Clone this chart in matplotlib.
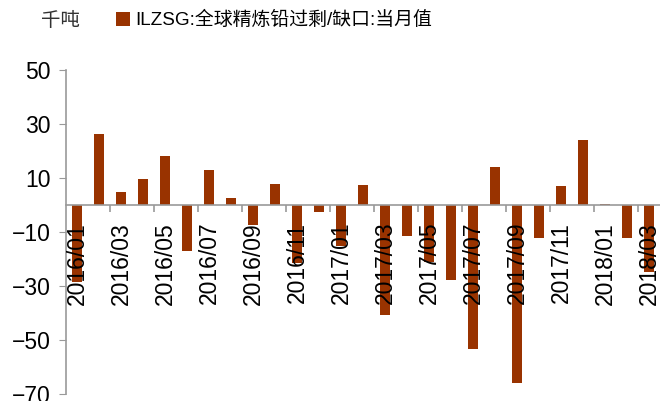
import matplotlib
matplotlib.use("Agg")
import matplotlib.pyplot as plt
import numpy as np

months = ["2016/01","2016/02","2016/03","2016/04","2016/05","2016/06","2016/07","2016/08",
          "2016/09","2016/10","2016/11","2016/12","2017/01","2017/02","2017/03","2017/04",
          "2017/05","2017/06","2017/07","2017/08","2017/09","2017/10","2017/11","2017/12",
          "2018/01","2018/02","2018/03"]
values = [-28.3, 26.4, 4.8, 9.8, 18.3, -16.9, 13.1, 2.8, -7.3, 7.9, -21.4, -2.7,
          -15.3, 7.3, -40.6, -11.4, -20.9, -27.7, -53.3, 14.1, -65.7, -12.0, 7.1, 24.1,
          0.3, -12.0, -24.6]
series_name = "ILZSG:全球精炼铅过剩/缺口:当月值"
unit = "千吨"
yticks = [-70, -50, -30, -10, 10, 30, 50]

plt.rcParams['font.family'] = ['Liberation Sans', 'Noto Sans CJK SC']
gray = '#999999'
barc = '#993300'

fig = plt.figure(figsize=(6.6, 4.01), dpi=100)
ax = fig.add_axes([0.1, 0.0167, 0.9, 0.8087])
x = np.arange(len(months))
ax.bar(x, values, width=0.42, color=barc, label=series_name, zorder=2)
ax.set_xlim(-0.5, len(months) - 0.5)
ax.set_ylim(-70, 50)
ax.set_yticks(yticks)
ax.tick_params(axis='y', direction='out', length=5, color=gray, labelsize=16.5, pad=6)

for s in ['top', 'right']:
    ax.spines[s].set_visible(False)
ax.spines['left'].set_color(gray)
ax.spines['left'].set_linewidth(1.2)
ax.spines['bottom'].set_position(('data', 0))
ax.spines['bottom'].set_color(gray)
ax.spines['bottom'].set_linewidth(1.2)
ax.spines['bottom'].set_zorder(3)
ax.xaxis.set_zorder(4)

ax.set_xticks(x[::2])
ax.set_xticklabels(months[::2], rotation=90, ha='center', va='top')
ax.set_xticks(np.arange(1.5, len(months) - 1, 2), minor=True)
ax.tick_params(axis='x', which='major', length=0, labelsize=16.5, pad=12)
ax.tick_params(axis='x', which='minor', length=5, color=gray, direction='out', width=1.2)

fig.text(0.062, 0.948, unit, fontsize=14, va='center', ha='left', family=['Noto Sans CJK SC'], color='#333333')
fig.legend(loc='center left', bbox_to_anchor=(0.176, 0.95), frameon=False, fontsize=13.6,
           handlelength=0.75, handleheight=0.75, handletextpad=0.25, borderpad=0, borderaxespad=0)

fig.savefig("out.png", dpi=100)
